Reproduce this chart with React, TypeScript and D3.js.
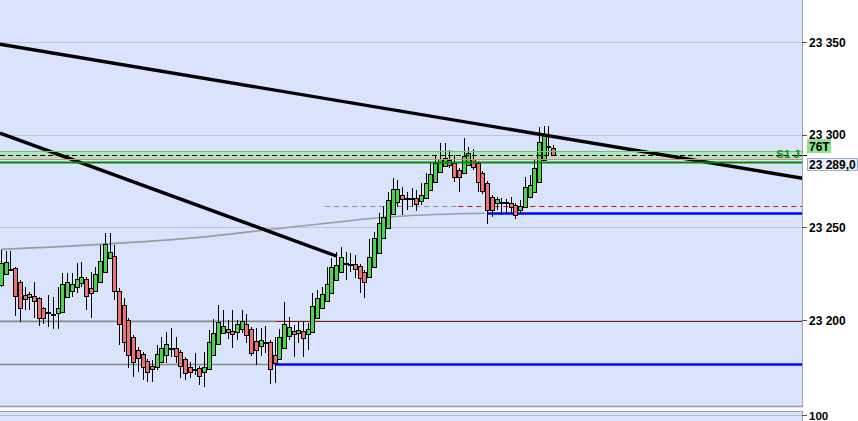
import React from 'react';
import * as d3 from 'd3';

// ---- data ----
const opens = [
  23218.7, 23224.6, 23227.3, 23227.9, 23220.3, 23213.3, 23212.2, 23212.8, 23211.7, 23206.3,
  23204.1, 23203.0, 23203.6, 23204.1, 23212.2, 23215.5, 23217.6, 23219.8, 23221.9, 23217.1,
  23215.5, 23220.3, 23225.7, 23233.3, 23234.4, 23215.5, 23207.9, 23199.8, 23190.6, 23183.6,
  23181.4, 23177.7, 23175.0, 23174.4, 23177.1, 23180.9, 23184.1, 23184.7, 23182.5, 23178.7,
  23174.4, 23173.3, 23173.9, 23171.7, 23173.3, 23180.9, 23186.8, 23192.8, 23194.9, 23193.9,
  23193.3, 23194.9, 23197.6, 23194.9, 23188.5, 23185.8, 23187.4, 23187.9, 23180.9, 23178.7,
  23184.7, 23191.2, 23193.9, 23192.8, 23193.9, 23192.2, 23193.3, 23200.9, 23206.3, 23210.1,
  23214.4, 23221.4, 23225.7, 23230.0, 23229.9, 23230.0, 23229.0, 23225.7, 23223.0, 23228.4,
  23236.0, 23244.1, 23249.5, 23257.0, 23263.5, 23267.3, 23266.0, 23265.7, 23265.7, 23264.1,
  23265.7, 23270.0, 23274.3, 23279.7, 23283.0, 23286.2, 23284.6, 23280.8, 23279.2, 23283.5,
  23286.7, 23284.6, 23279.2, 23273.8, 23266.2, 23263.0, 23263.8, 23263.5, 23263.0, 23261.9,
  23259.2, 23260.8, 23266.2, 23268.9, 23274.3, 23286.2, 23293.8, 23292.7,
];
const highs = [
  23237.6, 23237.1, 23237.1, 23228.4, 23221.4, 23217.6, 23214.9, 23220.3, 23212.2, 23206.8,
  23213.3, 23212.2, 23217.6, 23225.2, 23225.2, 23225.2, 23230.6, 23231.1, 23223.0, 23225.7,
  23228.4, 23240.3, 23246.8, 23246.8, 23240.3, 23217.1, 23211.7, 23200.9, 23191.7, 23185.2,
  23182.5, 23178.7, 23178.2, 23186.3, 23190.6, 23193.3, 23195.5, 23190.6, 23183.6, 23179.8,
  23177.1, 23182.0, 23175.0, 23182.5, 23194.4, 23200.3, 23207.9, 23205.2, 23199.8, 23205.2,
  23199.8, 23205.2, 23203.0, 23196.0, 23195.5, 23195.5, 23196.6, 23189.0, 23190.6, 23194.9,
  23209.5, 23201.4, 23197.1, 23198.7, 23198.7, 23198.2, 23214.4, 23216.0, 23217.6, 23228.4,
  23233.3, 23236.5, 23239.2, 23236.5, 23236.0, 23234.9, 23230.0, 23226.8, 23243.5, 23247.3,
  23257.6, 23261.4, 23268.9, 23276.5, 23275.4, 23271.6, 23268.9, 23271.1, 23270.0, 23273.8,
  23279.2, 23284.6, 23288.9, 23295.4, 23295.4, 23291.6, 23288.9, 23281.9, 23298.1, 23293.2,
  23292.1, 23285.7, 23280.3, 23274.9, 23267.3, 23266.2, 23265.7, 23265.1, 23266.2, 23263.0,
  23264.6, 23277.0, 23278.1, 23286.2, 23304.0, 23304.6, 23304.6, 23294.3,
];
const lows = [
  23217.6, 23224.1, 23226.3, 23202.0, 23198.7, 23205.2, 23205.2, 23200.9, 23196.6, 23197.6,
  23196.0, 23194.9, 23194.9, 23203.6, 23211.7, 23212.2, 23214.4, 23217.6, 23205.2, 23200.9,
  23214.9, 23219.8, 23225.2, 23232.7, 23210.6, 23186.3, 23182.5, 23173.9, 23169.0, 23171.7,
  23167.4, 23166.3, 23166.3, 23172.8, 23176.6, 23176.6, 23179.8, 23176.6, 23168.5, 23167.4,
  23168.5, 23170.1, 23164.7, 23163.6, 23172.8, 23180.4, 23186.3, 23192.2, 23189.5, 23184.7,
  23189.0, 23192.8, 23187.4, 23180.4, 23175.5, 23180.4, 23182.0, 23165.2, 23165.8, 23178.2,
  23184.1, 23189.0, 23179.8, 23187.4, 23179.8, 23183.6, 23192.8, 23200.3, 23205.7, 23209.5,
  23213.8, 23220.8, 23225.2, 23221.4, 23225.7, 23222.5, 23214.4, 23211.7, 23222.5, 23227.9,
  23235.4, 23243.5, 23248.9, 23256.5, 23260.8, 23256.5, 23259.2, 23260.8, 23258.7, 23261.9,
  23265.1, 23269.5, 23273.8, 23279.2, 23282.4, 23281.9, 23274.3, 23268.9, 23278.6, 23283.0,
  23280.8, 23268.9, 23267.8, 23251.6, 23255.4, 23259.2, 23256.5, 23257.6, 23257.0, 23254.3,
  23257.6, 23260.3, 23265.7, 23268.4, 23273.8, 23285.7, 23288.9, 23288.9,
];
const closes = [
  23230.6, 23231.1, 23227.1, 23212.8, 23206.3, 23211.1, 23213.8, 23210.1, 23200.9, 23200.9,
  23203.8, 23203.3, 23206.3, 23219.2, 23220.3, 23219.2, 23221.9, 23223.0, 23212.8, 23214.4,
  23224.6, 23231.7, 23240.8, 23236.5, 23215.5, 23197.6, 23187.9, 23180.9, 23177.1, 23179.3,
  23174.4, 23171.7, 23173.3, 23181.4, 23184.7, 23186.8, 23184.7, 23180.4, 23175.0, 23171.2,
  23171.7, 23173.1, 23169.6, 23174.4, 23187.9, 23192.8, 23198.7, 23196.6, 23193.3, 23192.2,
  23197.6, 23199.3, 23191.7, 23182.0, 23183.6, 23189.0, 23188.2, 23173.3, 23176.6, 23190.6,
  23197.6, 23196.0, 23192.2, 23194.4, 23190.1, 23194.9, 23207.4, 23211.7, 23213.8, 23219.2,
  23228.4, 23229.5, 23233.8, 23230.6, 23230.4, 23227.3, 23222.5, 23220.3, 23233.8, 23244.1,
  23252.2, 23255.4, 23264.6, 23270.5, 23270.5, 23265.1, 23265.7, 23266.0, 23262.4, 23267.3,
  23273.8, 23278.6, 23284.6, 23286.7, 23287.3, 23283.5, 23277.0, 23277.0, 23288.4, 23290.0,
  23282.4, 23274.3, 23269.5, 23259.2, 23259.2, 23265.1, 23263.5, 23263.8, 23260.8, 23256.5,
  23261.4, 23271.6, 23272.7, 23281.9, 23295.9, 23299.7, 23293.5, 23289.0,
];

const priceTicks = [23200, 23250, 23300, 23350];
const lowerPanelTick = '100';

// moving-average style curve: [bar index, price]
const maIdx = [0, 21, 42, 63, 84.5, 102.5];
const maPrice = [23238.1, 23240.8, 23244.6, 23250.6, 23256.0, 23257.6];

// trendlines: [bar index, price]
const trendAIdx = [-0.21, 169.8];
const trendAPrice = [23348.8, 23276.5];
const trendBIdx = [-0.21, 71.2];
const trendBPrice = [23300.8, 23234.4];

// horizontal levels
const lastPrice = 23289.0;
const zoneTop = 23291.2;
const zoneBottom = 23286.3;
const zonePink = 23286.7;
const zoneGreen = 23285.5;
const dashLevel = 23261.5;
const dashStartIdx = 68.7;
const dashSplitIdx = 96.9;
const blueHighLevel = 23258.0;
const blueHighStartIdx = 103.0;
const level200 = 23199.5;
const blueLowLevel = 23176.3;
const sessionSplitIdx = 58.1;
const zoneLabel = 'S1 J';
const tickCountLabel = '76T';

// ---- layout ----
const W = 858;
const H = 421;
const plotR = 802;
const plotB = 406;
const BG = '#d9e4fc';
const FONT = '"Liberation Sans", Arial, sans-serif';

const fmt = d3.formatLocale({ decimal: ',', thousands: ' ', grouping: [3], currency: ['', ''] });
const fmtTick = fmt.format(',.0f');
const fmtLast = fmt.format(',.1f');

export default function App() {
  const x = d3.scaleLinear().domain([0, 117]).range([1, 553.2]);
  const y = d3.scaleLinear().domain([23200, 23350]).range([320, 42]);
  const endIdx = x.invert(plotR);
  const startIdx = x.invert(0);

  const line = d3.line<[number, number]>().x((d) => x(d[0])).y((d) => y(d[1]));
  const maPath = d3
    .line<[number, number]>()
    .x((d) => x(d[0]))
    .y((d) => y(d[1]))
    .curve(d3.curveMonotoneX)(maIdx.map((v, i) => [v, maPrice[i]] as [number, number]));
  const trendA = line(trendAIdx.map((v, i) => [v, trendAPrice[i]] as [number, number]));
  const trendB = line(trendBIdx.map((v, i) => [v, trendBPrice[i]] as [number, number]));

  const hl = (price: number, i0: number, i1: number) => {
    const yy = Math.round(y(price)) + 0.5;
    return { x1: x(i0), x2: x(i1), y1: yy, y2: yy };
  };

  const candles = opens.map((o, i) => {
    const c = closes[i];
    const cx = Math.round(x(i));
    const up = c >= o;
    const top = y(Math.max(o, c));
    const bot = y(Math.min(o, c));
    const yt = Math.round(top) + 0.5;
    const h = Math.max(1, Math.round(bot - top));
    return (
      <g key={i}>
        <line x1={cx + 0.5} x2={cx + 0.5} y1={Math.round(y(highs[i]))} y2={Math.round(y(lows[i]))} stroke="#000" strokeWidth={1} />
        <rect x={cx - 1.5} y={yt} width={4} height={h} fill={up ? '#4cd24c' : '#ec7272'} stroke="#000" strokeWidth={1} />
      </g>
    );
  });

  return (
    <svg width={W} height={H} style={{ position: 'absolute', left: 0, top: 0, fontFamily: FONT }}>
      <rect x={0} y={0} width={W} height={H} fill="#fff" />
      <rect x={0} y={0} width={plotR} height={plotB} fill={BG} />
      {/* lower panel */}
      <rect x={0} y={411} width={plotR} height={H - 411} fill={BG} />
      <line x1={0} x2={plotR} y1={411.5} y2={411.5} stroke="#9aa3b5" strokeWidth={1} />
      <line x1={0} x2={plotR} y1={415.5} y2={415.5} stroke="#b3bdd2" strokeWidth={1} />

      {/* grid */}
      {priceTicks.map((p) => (
        <line key={p} x1={0} x2={plotR} y1={Math.round(y(p)) + 0.5} y2={Math.round(y(p)) + 0.5} stroke="#bcc6dc" strokeWidth={1} />
      ))}

      {/* zone fill */}
      <rect x={0} y={y(zoneTop)} width={plotR} height={y(zoneBottom) - y(zoneTop)} fill="#a9e2b4" opacity={0.85} />

      {/* levels */}
      <line {...hl(level200, startIdx, sessionSplitIdx)} stroke="#888" strokeWidth={1.5} />
      <line {...hl(level200, sessionSplitIdx, endIdx)} stroke="#8b1010" strokeWidth={1} />
      <line {...hl(blueLowLevel, startIdx, sessionSplitIdx)} stroke="#888" strokeWidth={1.5} />
      <line {...hl(blueLowLevel, sessionSplitIdx, endIdx)} stroke="#0000ff" strokeWidth={2.5} />
      <line {...hl(dashLevel, dashStartIdx, dashSplitIdx)} stroke="#8c8c8c" strokeWidth={1} strokeDasharray="5,4" />
      <line {...hl(dashLevel, dashSplitIdx, endIdx)} stroke="#d01010" strokeWidth={1} strokeDasharray="5,4" />
      <line {...hl(blueHighLevel, blueHighStartIdx, endIdx)} stroke="#0000ff" strokeWidth={2.5} />

      {/* moving average */}
      <path d={maPath || ''} fill="none" stroke="#9c9c9c" strokeWidth={1.6} />

      {/* trendlines */}
      <path d={trendB || ''} stroke="#000" strokeWidth={3.4} fill="none" />

      <g shapeRendering="crispEdges">{candles}</g>

      <path d={trendA || ''} stroke="#000" strokeWidth={3.4} fill="none" />

      {/* zone lines on top */}
      <line {...hl(zoneTop, startIdx, endIdx)} stroke="#6cc76c" strokeWidth={1} />
      <line {...hl(zonePink, startIdx, endIdx)} stroke="#e08080" strokeWidth={1} />
      <line {...hl(zoneGreen, startIdx, endIdx)} stroke="#008a00" strokeWidth={2} />
      <line {...hl(lastPrice, startIdx, endIdx)} stroke="#000" strokeWidth={1} strokeDasharray="5,3" />
      <line x1={plotR - 6} x2={807} y1={Math.round(y(lastPrice)) + 0.5} y2={Math.round(y(lastPrice)) + 0.5} stroke="#000" strokeWidth={1} />
      <text x={800} y={y(lastPrice) + 2.5} textAnchor="end" fontSize={11.5} fontWeight="bold" fill="#1a8f1a">
        {zoneLabel}
      </text>

      {/* right axis */}
      <line x1={plotR + 0.5} x2={plotR + 0.5} y1={0} y2={plotB + 1} stroke="#9aa3b5" strokeWidth={1} />
      <line x1={plotR + 0.5} x2={plotR + 0.5} y1={411} y2={H} stroke="#9aa3b5" strokeWidth={1} />
      <line x1={0} x2={plotR + 1} y1={plotB + 0.5} y2={plotB + 0.5} stroke="#8f98aa" strokeWidth={1.5} />
      {priceTicks.map((p) => (
        <g key={p}>
          <line x1={plotR} x2={807} y1={Math.round(y(p)) + 0.5} y2={Math.round(y(p)) + 0.5} stroke="#555" strokeWidth={1} />
          <text x={809} y={y(p) + 4.5} fontSize={12} fontWeight="bold" fill="#000">
            {fmtTick(p)}
          </text>
        </g>
      ))}
      <line x1={plotR} x2={807} y1={415.5} y2={415.5} stroke="#555" strokeWidth={1} />
      <text x={809} y={419.5} fontSize={11.5} fontWeight="bold" fill="#000">
        {lowerPanelTick}
      </text>

      {/* price labels */}
      <rect x={807} y={139} width={24} height={14} fill="#8fe48f" />
      <text x={809} y={150.5} fontSize={12} fontWeight="bold" fill="#000">
        {tickCountLabel}
      </text>
      <rect x={807.5} y={158.5} width={50} height={12} fill="#e9eefb" stroke="#9fb0cc" strokeWidth={1} />
      <text x={809} y={169} fontSize={12} fontWeight="bold" fill="#000">
        {fmtLast(lastPrice)}
      </text>
    </svg>
  );
}
